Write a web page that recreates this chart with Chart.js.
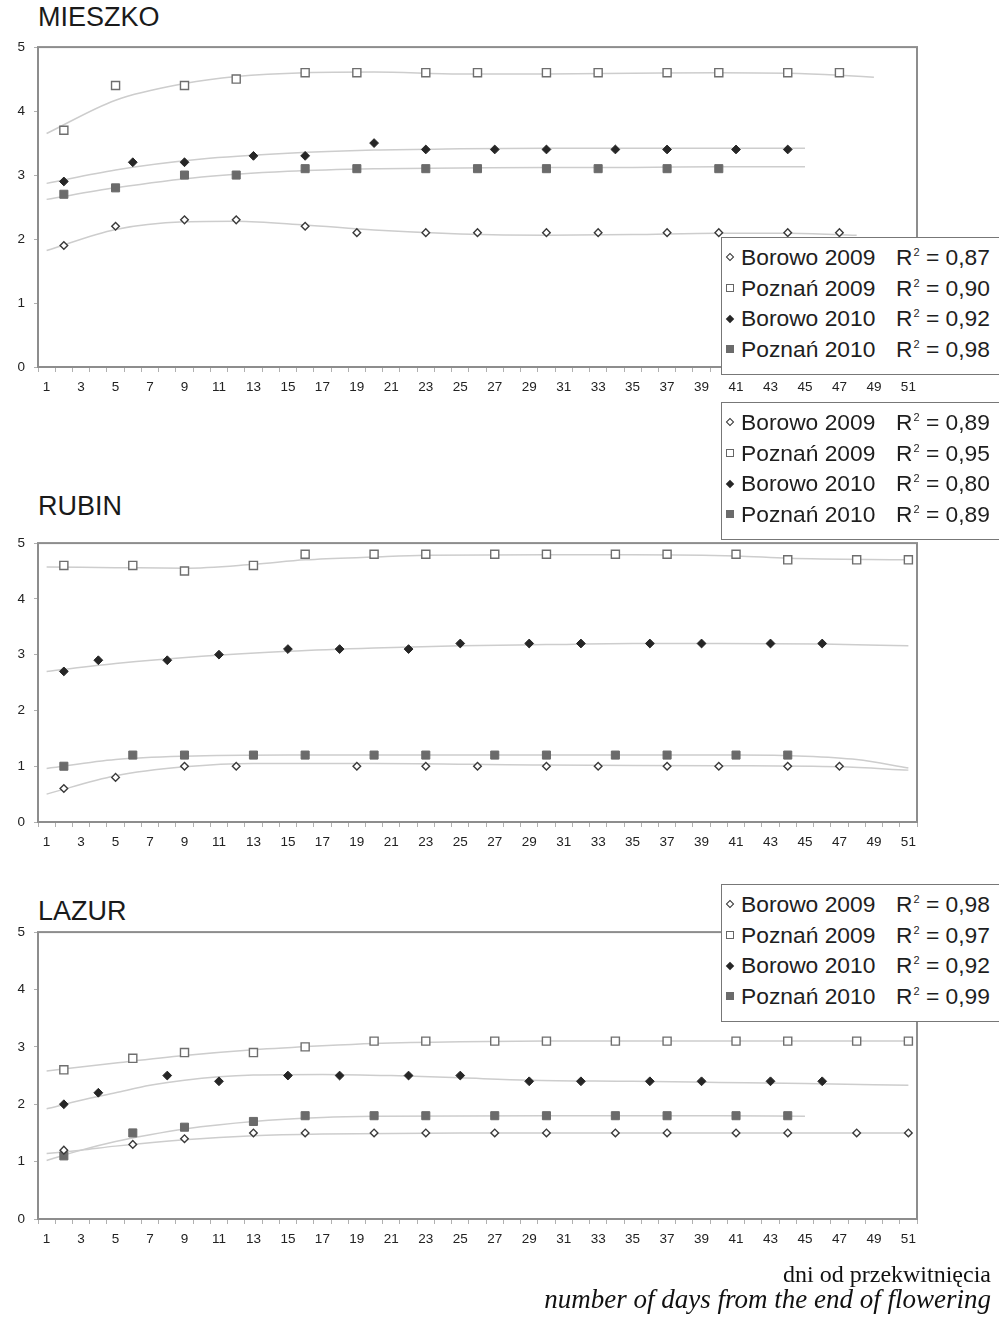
<!DOCTYPE html>
<html lang="pl">
<head>
<meta charset="UTF-8">
<title>Mieszko, Rubin, Lazur</title>
<script src="https://cdn.jsdelivr.net/npm/chart.js"></script>
<style>
  body {
    margin: 0;
    width: 999px;
    height: 1317px;
    position: relative;
    overflow: hidden;
    background: #fff;
    font-family: "Liberation Sans", Arial, sans-serif;
    color: #1a1a1a;
  }
  canvas { position: absolute; left: 0; }
  .title { position: absolute; left: 38px; font-size: 27px; line-height: 27px; }
  .legend {
    position: absolute;
    left: 721px;
    width: 300px;
    height: 138px;
    box-sizing: border-box;
    padding-top: 4px;
    border: 1.5px solid #777;
    background: #fff;
    z-index: 2;
  }
  .row { position: relative; height: 30.7px; line-height: 30.7px; font-size: 22.8px; color: #1e1e1e; }
  .row .name { position: absolute; left: 19px; top: 0; }
  .row .r2 { position: absolute; left: 174px; top: 0; white-space: nowrap; }
  .row sup { font-size: 11px; line-height: 0; vertical-align: 9px; margin-left: 1px; }
  .mk { position: absolute; box-sizing: border-box; }
  .mk0 { width: 6px; height: 6px; left: 4.5px; top: 12.3px; border: 1.3px solid #333; background: #fff; transform: rotate(45deg); }
  .mk1 { width: 8px; height: 8px; left: 3.5px; top: 11.3px; border: 1.3px solid #666; background: #fff; }
  .mk2 { width: 6px; height: 6px; left: 4.5px; top: 12.3px; background: #262626; transform: rotate(45deg); }
  .mk3 { width: 8px; height: 8px; left: 3.5px; top: 11.3px; background: #6b6b6b; }
  .caption { position: absolute; right: 8px; font-family: "Liberation Serif", "Times New Roman", serif; color: #111; white-space: nowrap; }
</style>
</head>
<body>
<div class="title" style="top:3.8px">MIESZKO</div>
<div class="title" style="top:493px">RUBIN</div>
<div class="title" style="top:898px">LAZUR</div>

<canvas id="mieszko" width="999" height="380" style="top:30px"></canvas>
<canvas id="rubin" width="999" height="339" style="top:526px"></canvas>
<canvas id="lazur" width="999" height="347" style="top:915px"></canvas>

<div class="legend" id="leg-mieszko" style="top:237px"></div>
<div class="legend" id="leg-rubin" style="top:402px"></div>
<div class="legend" id="leg-lazur" style="top:884px"></div>

<div class="caption" style="top:1262px; font-size:24px; line-height:24px">dni od przekwitnięcia</div>
<div class="caption" style="top:1286px; font-size:27px; line-height:27px; font-style:italic">number of days from the end of flowering</div>

<script>
const seriesNames = ['Borowo 2009', 'Poznań 2009', 'Borowo 2010', 'Poznań 2010'];
const xTickLabels = ['1','3','5','7','9','11','13','15','17','19','21','23','25',
                     '27','29','31','33','35','37','39','41','43','45','47','49','51'];

// MIESZKO
const mR2 = ['0,87', '0,90', '0,92', '0,98'];
const mB09Days = [2, 5, 9, 12, 16, 19, 23, 26, 30, 33, 37, 40, 44, 47];
const mB09 = [1.9, 2.2, 2.3, 2.3, 2.2, 2.1, 2.1, 2.1, 2.1, 2.1, 2.1, 2.1, 2.1, 2.1];
const mP09Days = [2, 5, 9, 12, 16, 19, 23, 26, 30, 33, 37, 40, 44, 47];
const mP09 = [3.7, 4.4, 4.4, 4.5, 4.6, 4.6, 4.6, 4.6, 4.6, 4.6, 4.6, 4.6, 4.6, 4.6];
const mB10Days = [2, 6, 9, 13, 16, 20, 23, 27, 30, 34, 37, 41, 44];
const mB10 = [2.9, 3.2, 3.2, 3.3, 3.3, 3.5, 3.4, 3.4, 3.4, 3.4, 3.4, 3.4, 3.4];
const mP10Days = [2, 5, 9, 12, 16, 19, 23, 26, 30, 33, 37, 40];
const mP10 = [2.7, 2.8, 3.0, 3.0, 3.1, 3.1, 3.1, 3.1, 3.1, 3.1, 3.1, 3.1];
// trend lines
const mB09TrendDays = [1, 5, 9, 12, 16, 20, 25, 30, 35, 40, 44, 48];
const mB09Trend = [1.82, 2.15, 2.27, 2.28, 2.22, 2.14, 2.08, 2.06, 2.07, 2.09, 2.09, 2.06];
const mP09TrendDays = [1, 5, 9, 12, 16, 20, 25, 30, 35, 40, 44, 47, 49];
const mP09Trend = [3.65, 4.17, 4.43, 4.54, 4.6, 4.61, 4.58, 4.58, 4.59, 4.6, 4.59, 4.56, 4.53];
const mB10TrendDays = [1, 5, 10, 15, 20, 25, 30, 35, 40, 45];
const mB10Trend = [2.87, 3.08, 3.25, 3.34, 3.39, 3.41, 3.42, 3.42, 3.42, 3.42];
const mP10TrendDays = [1, 5, 10, 15, 20, 25, 30, 35, 40, 45];
const mP10Trend = [2.62, 2.8, 2.97, 3.06, 3.1, 3.11, 3.12, 3.12, 3.13, 3.13];

// RUBIN
const rR2 = ['0,89', '0,95', '0,80', '0,89'];
const rB09Days = [2, 5, 9, 12, 19, 23, 26, 30, 33, 37, 40, 44, 47];
const rB09 = [0.6, 0.8, 1.0, 1.0, 1.0, 1.0, 1.0, 1.0, 1.0, 1.0, 1.0, 1.0, 1.0];
const rP09Days = [2, 6, 9, 13, 16, 20, 23, 27, 30, 34, 37, 41, 44, 48, 51];
const rP09 = [4.6, 4.6, 4.5, 4.6, 4.8, 4.8, 4.8, 4.8, 4.8, 4.8, 4.8, 4.8, 4.7, 4.7, 4.7];
const rB10Days = [2, 4, 8, 11, 15, 18, 22, 25, 29, 32, 36, 39, 43, 46];
const rB10 = [2.7, 2.9, 2.9, 3.0, 3.1, 3.1, 3.1, 3.2, 3.2, 3.2, 3.2, 3.2, 3.2, 3.2];
const rP10Days = [2, 6, 9, 13, 16, 20, 23, 27, 30, 34, 37, 41, 44];
const rP10 = [1.0, 1.2, 1.2, 1.2, 1.2, 1.2, 1.2, 1.2, 1.2, 1.2, 1.2, 1.2, 1.2];
const rB09TrendDays = [1, 5, 9, 13, 20, 30, 40, 47, 51];
const rB09Trend = [0.5, 0.83, 0.99, 1.05, 1.05, 1.02, 1.01, 0.99, 0.93];
const rP09TrendDays = [1, 5, 9, 13, 16, 20, 23, 30, 35, 41, 44, 51];
const rP09Trend = [4.57, 4.56, 4.55, 4.62, 4.7, 4.75, 4.78, 4.79, 4.79, 4.77, 4.73, 4.7];
const rB10TrendDays = [1, 5, 10, 15, 20, 25, 30, 35, 40, 46, 51];
const rB10Trend = [2.7, 2.84, 2.97, 3.06, 3.12, 3.16, 3.18, 3.2, 3.2, 3.19, 3.16];
const rP10TrendDays = [1, 5, 9, 15, 25, 35, 41, 45, 48, 51];
const rP10Trend = [0.96, 1.12, 1.18, 1.2, 1.2, 1.2, 1.2, 1.18, 1.12, 0.97];

// LAZUR
const lR2 = ['0,98', '0,97', '0,92', '0,99'];
const lB09Days = [2, 6, 9, 13, 16, 20, 23, 27, 30, 34, 37, 41, 44, 48, 51];
const lB09 = [1.2, 1.3, 1.4, 1.5, 1.5, 1.5, 1.5, 1.5, 1.5, 1.5, 1.5, 1.5, 1.5, 1.5, 1.5];
const lP09Days = [2, 6, 9, 13, 16, 20, 23, 27, 30, 34, 37, 41, 44, 48, 51];
const lP09 = [2.6, 2.8, 2.9, 2.9, 3.0, 3.1, 3.1, 3.1, 3.1, 3.1, 3.1, 3.1, 3.1, 3.1, 3.1];
const lB10Days = [2, 4, 8, 11, 15, 18, 22, 25, 29, 32, 36, 39, 43, 46];
const lB10 = [2.0, 2.2, 2.5, 2.4, 2.5, 2.5, 2.5, 2.5, 2.4, 2.4, 2.4, 2.4, 2.4, 2.4];
const lP10Days = [2, 6, 9, 13, 16, 20, 23, 27, 30, 34, 37, 41, 44];
const lP10 = [1.1, 1.5, 1.6, 1.7, 1.8, 1.8, 1.8, 1.8, 1.8, 1.8, 1.8, 1.8, 1.8];
const lB09TrendDays = [1, 3, 5, 9, 13, 17, 25, 35, 45, 51];
const lB09Trend = [1.14, 1.2, 1.27, 1.38, 1.45, 1.48, 1.5, 1.5, 1.5, 1.5];
const lP09TrendDays = [1, 5, 9, 13, 17, 20, 25, 30, 40, 51];
const lP09Trend = [2.58, 2.72, 2.85, 2.95, 3.02, 3.06, 3.09, 3.1, 3.1, 3.1];
const lB10TrendDays = [1, 3, 5, 7, 9, 11, 13, 17, 21, 25, 29, 35, 40, 45, 51];
const lB10Trend = [1.92, 2.07, 2.2, 2.33, 2.42, 2.48, 2.51, 2.52, 2.5, 2.46, 2.42, 2.4, 2.38, 2.36, 2.33];
const lP10TrendDays = [1, 3, 5, 7, 9, 13, 17, 20, 30, 40, 45];
const lP10Trend = [1.02, 1.2, 1.35, 1.47, 1.57, 1.7, 1.77, 1.79, 1.8, 1.8, 1.79];

// one tick per day, labels only on odd days
const allDays = [];
for (let d = 1; d <= 51; d++) allDays.push(d);

const markerStyles = [
  { pointStyle: 'rectRot', pointRadius: 3.8, backgroundColor: '#fff', borderColor: '#3a3a3a', borderWidth: 1.4 },
  { pointStyle: 'rect', pointRadius: 5.7, backgroundColor: '#fff', borderColor: '#6e6e6e', borderWidth: 1.4 },
  { pointStyle: 'rectRot', pointRadius: 4.4, backgroundColor: '#262626', borderColor: '#262626', borderWidth: 1 },
  { pointStyle: 'rect', pointRadius: 5.7, backgroundColor: '#6b6b6b', borderColor: '#6b6b6b', borderWidth: 1 }
];

const plotFrame = {
  id: 'plotFrame',
  beforeDatasetsDraw(chart) {
    const { ctx, chartArea: a } = chart;
    ctx.save();
    ctx.strokeStyle = '#8d8d8d';
    ctx.lineWidth = 2;
    ctx.strokeRect(a.left, a.top, a.right - a.left, a.bottom - a.top);
    ctx.restore();
  }
};

function xy(days, vals) {
  return days.map((d, i) => ({ x: d, y: vals[i] }));
}

function drawPanel(id, series) {
  let datasets = [];
  series.forEach((s, i) => {
    datasets.push({
      data: xy(s[2], s[3]),
      showLine: true,
      pointRadius: 0,
      borderColor: '#cdcdcd',
      borderWidth: 1.5,
      cubicInterpolationMode: 'monotone',
      order: 2
    });
    datasets.push(Object.assign({ data: xy(s[0], s[1]), showLine: false, order: 1 }, markerStyles[i]));
  });

  const tickFont = { family: '"Liberation Sans", Arial, sans-serif', size: 13.5 };
  new Chart(document.getElementById(id), {
    type: 'scatter',
    data: { datasets: datasets },
    plugins: [plotFrame],
    options: {
      responsive: false,
      animation: false,
      events: [],
      layout: { padding: { top: 11, right: 82, left: 0, bottom: 0 } },
      plugins: { legend: { display: false }, tooltip: { enabled: false } },
      scales: {
        x: {
          type: 'linear',
          bounds: 'data',
          min: 0.5,
          max: 51.5,
          afterBuildTicks: scale => { scale.ticks = allDays.map(v => ({ value: v })); },
          afterFit: scale => { scale.height = 43; },
          grid: { offset: true, drawOnChartArea: false, tickLength: 5, color: '#b0b0b0' },
          border: { display: false },
          ticks: {
            autoSkip: false,
            maxRotation: 0,
            padding: 7,
            color: '#222',
            font: tickFont,
            callback: v => xTickLabels.includes(String(v)) ? String(v) : ''
          }
        },
        y: {
          min: 0,
          max: 5,
          afterFit: scale => { scale.width = 38; },
          grid: { drawOnChartArea: false, tickLength: 4, color: '#b0b0b0' },
          border: { display: false },
          ticks: { stepSize: 1, padding: 9, color: '#222', font: tickFont }
        }
      }
    }
  });
}

function buildLegend(id, r2) {
  const box = document.getElementById(id);
  seriesNames.forEach((name, i) => {
    const row = document.createElement('div');
    row.className = 'row';
    row.innerHTML = '<span class="mk mk' + i + '"></span><span class="name">' + name +
      '</span><span class="r2">R<sup>2</sup> = ' + r2[i] + '</span>';
    box.appendChild(row);
  });
}

drawPanel('mieszko', [
  [mB09Days, mB09, mB09TrendDays, mB09Trend],
  [mP09Days, mP09, mP09TrendDays, mP09Trend],
  [mB10Days, mB10, mB10TrendDays, mB10Trend],
  [mP10Days, mP10, mP10TrendDays, mP10Trend]
]);
drawPanel('rubin', [
  [rB09Days, rB09, rB09TrendDays, rB09Trend],
  [rP09Days, rP09, rP09TrendDays, rP09Trend],
  [rB10Days, rB10, rB10TrendDays, rB10Trend],
  [rP10Days, rP10, rP10TrendDays, rP10Trend]
]);
drawPanel('lazur', [
  [lB09Days, lB09, lB09TrendDays, lB09Trend],
  [lP09Days, lP09, lP09TrendDays, lP09Trend],
  [lB10Days, lB10, lB10TrendDays, lB10Trend],
  [lP10Days, lP10, lP10TrendDays, lP10Trend]
]);

buildLegend('leg-mieszko', mR2);
buildLegend('leg-rubin', rR2);
buildLegend('leg-lazur', lR2);
</script>
</body>
</html>
